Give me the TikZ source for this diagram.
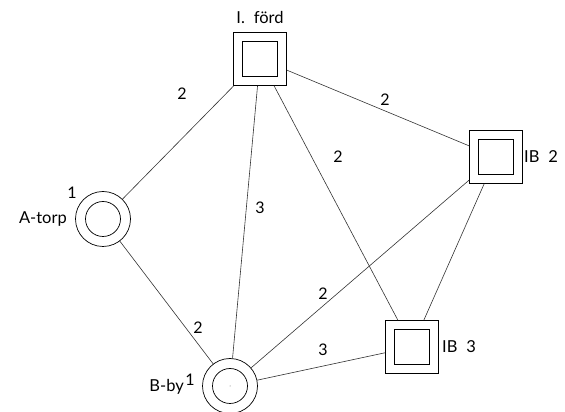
\documentclass[tikz,border=0pt]{standalone}
\usepackage{fontspec}
\setmainfont{Lato}
\begin{document}
\begin{tikzpicture}[x=1pt,y=1pt,
  lbl/.style={font=\fontsize{16.5}{16.5}\selectfont, inner sep=0pt},
  num/.style={font=\fontsize{16}{16}\selectfont, inner sep=0pt},
  sqout/.style={draw, line width=0.7pt, minimum size=53pt, inner sep=0pt},
  sqin/.style={draw, line width=0.7pt, minimum size=35pt, inner sep=0pt},
  ciout/.style={circle, draw, line width=0.7pt, minimum size=55pt, inner sep=0pt},
  ciin/.style={circle, draw, line width=0.7pt, minimum size=35pt, inner sep=0pt},
  link/.style={draw=black!80, line width=0.6pt}]
\useasboundingbox (0,0) rectangle (565,412);
% nodes
\node[sqout] (F) at (260,353) {};
\node[sqin] (Fi) at (F) {};
\node[sqout] (I2) at (496,255) {};
\node[sqin] (I2i) at (I2) {};
\node[sqout] (I3) at (412,65) {};
\node[sqin] (I3i) at (I3) {};
\node[ciout] (A) at (103,193) {};
\node[ciin] (Ai) at (A) {};
\node[ciout] (B) at (230,26) {};
\node[ciin] (Bi) at (B) {};
\fill[black!60] (B) circle (0.5pt);
% names
\node[lbl] (tF) at (260,395) {I.\; förd};
\node[lbl, anchor=west] (tI2) at (524,255) {IB\; 2};
\node[lbl, anchor=west] (tI3) at (442,65) {IB\; 3};
\node[lbl, anchor=east] (tA) at (67,193) {A-torp};
\node[num] (tA1) at (72,219) {1};
\node[lbl, anchor=east] (tB) at (184,25) {B-by};
\node[num] (tB1) at (190,32) {1};
% links
\draw[link] (F) -- (A);
\draw[link] (F) -- (B);
\draw[link] (F) -- (I3);
\draw[link] (F) -- (I2);
\draw[link] (A) -- (B);
\draw[link] (B) -- (I2);
\draw[link] (B) -- (I3);
\draw[link] (I2) -- (I3);
% weights
\node[num] (w1) at (182,318) {2};
\node[num] (w2) at (260,204) {3};
\node[num] (w3) at (338,255) {2};
\node[num] (w4) at (385,312) {2};
\node[num] (w5) at (198,84) {2};
\node[num] (w6) at (323,118) {2};
\node[num] (w7) at (323,62) {3};
\end{tikzpicture}
\end{document}
